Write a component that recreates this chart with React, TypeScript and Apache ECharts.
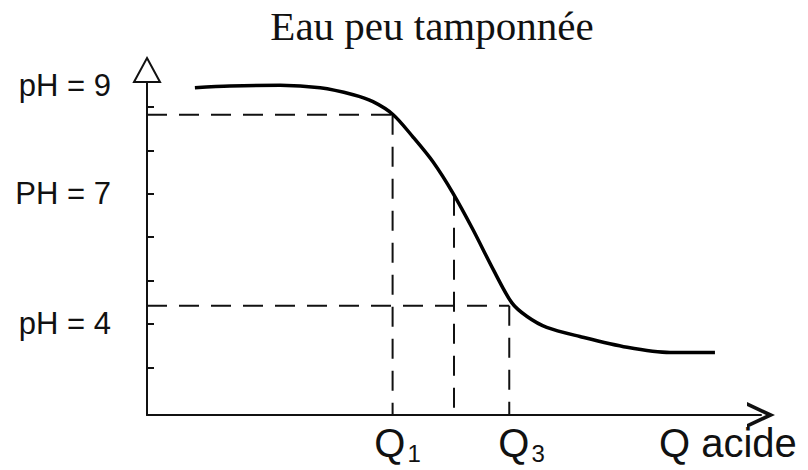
import React, { useEffect, useRef } from "react";
import * as echarts from "echarts";

// Titration curve (pH vs quantity of acid)
const curveQ = [0.78, 1.35, 2.17, 2.82, 3.36, 3.68, 4.01, 4.33, 4.66, 4.98, 5.31, 5.64, 5.94, 6.19, 6.51, 7.05, 7.82, 8.52, 9.25];
const curvePH = [9.44, 9.48, 9.5, 9.44, 9.28, 9.12, 8.82, 8.31, 7.73, 7.02, 6.17, 5.25, 4.49, 4.17, 3.92, 3.71, 3.46, 3.34, 3.34];

// Reference quantities and their pH
const qMarks = [4.0, 5.0, 5.9];
const pHMarks = [8.82, 6.95, 4.42];

// Axis ranges
const xMin = 0;
const xMax = 10;
const yMin = 1.9;
const yMax = 9.85;

// Tick marks and labels
const yTickValues = [3, 4, 5, 6, 7, 8, 9];
const yLabelValues = [4, 7, 9.5];
const yLabelTexts = ["pH = 4", "PH = 7", "pH = 9"];
const xLabelValues = [4.08, 6.1, 9.46];
const xLabelTexts = ["{q|Q}{s|1}", "{q|Q}{s|3}", "{q|Q acide}"];

const titleText = "Eau peu tamponnée";

export default function App() {
  const ref = useRef<HTMLDivElement>(null);

  useEffect(() => {
    if (!ref.current) return;
    const chart = echarts.init(ref.current, null, { renderer: "svg" });

    const dashed = { color: "#111", width: 2, type: [20, 12] as any };
    const guide = (data: number[][]) => ({
      type: "line",
      data,
      showSymbol: false,
      symbol: "none",
      lineStyle: dashed,
      silent: true,
      z: 1,
    });

    const guides = [
      guide([[xMin, pHMarks[0]], [qMarks[0], pHMarks[0]]]),
      guide([[qMarks[0], pHMarks[0]], [qMarks[0], yMin]]),
      guide([[qMarks[1], pHMarks[1]], [qMarks[1], yMin]]),
      guide([[xMin, pHMarks[2]], [qMarks[2], pHMarks[2]]]),
      guide([[qMarks[2], pHMarks[2]], [qMarks[2], yMin]]),
    ];

    chart.setOption({
      animation: false,
      backgroundColor: "#fff",
      title: {
        text: titleText,
        left: 427,
        top: 0,
        textAlign: "center",
        textStyle: {
          fontFamily: "Liberation Serif",
          fontSize: 41,
          fontWeight: "normal",
          color: "#111",
        },
      },
      grid: { left: 147, right: 47, top: 70, bottom: 55, containLabel: false },
      xAxis: {
        type: "value",
        min: xMin,
        max: xMax,
        splitLine: { show: false },
        axisLine: {
          show: true,
          symbol: ["none", "path://M0,28 L13,0 L26,28 L22,28 L13,9 L4,28 Z"],
          symbolSize: [26, 28],
          lineStyle: { color: "#111", width: 2 },
        },
        axisTick: { show: false },
        axisLabel: {
          customValues: xLabelValues,
          margin: 6,
          formatter: (v: number) => xLabelTexts[xLabelValues.indexOf(v)] ?? "",
          rich: {
            q: { fontFamily: "Liberation Sans", fontSize: 40, color: "#111", lineHeight: 44 },
            s: { fontFamily: "Liberation Sans", fontSize: 24, color: "#111", lineHeight: 44, verticalAlign: "bottom", padding: [14, 0, 0, 2] },
          },
        },
      },
      yAxis: {
        type: "value",
        min: yMin,
        max: yMax,
        splitLine: { show: false },
        axisLine: {
          show: true,
          symbol: ["none", "emptyTriangle"],
          symbolSize: [26, 24],
          lineStyle: { color: "#111", width: 2 },
        },
        axisTick: {
          show: true,
          customValues: yTickValues,
          inside: true,
          length: 7,
          lineStyle: { color: "#111", width: 2 },
        },
        axisLabel: {
          customValues: yLabelValues,
          margin: 36,
          fontFamily: "Liberation Sans",
          fontSize: 31,
          color: "#111",
          formatter: (v: number) => yLabelTexts[yLabelValues.indexOf(v)] ?? "",
        },
      },
      series: [
        ...guides,
        {
          type: "line",
          data: curveQ.map((q, i) => [q, curvePH[i]]),
          smooth: 0.3,
          showSymbol: false,
          symbol: "none",
          lineStyle: { color: "#000", width: 3.5 },
          z: 3,
        },
      ],
    });

    return () => chart.dispose();
  }, []);

  return (
    <div
      ref={ref}
      style={{ position: "absolute", left: 0, top: 0, width: 808, height: 470 }}
    />
  );
}
